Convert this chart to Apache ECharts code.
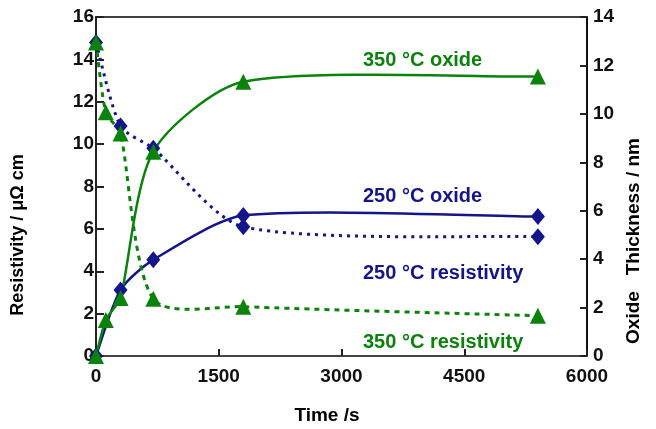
<!DOCTYPE html>
<html><head><meta charset="utf-8">
<script src="https://cdn.jsdelivr.net/npm/echarts@6/dist/echarts.min.js"></script>
<style>html,body{margin:0;padding:0;background:#fff}#c{width:656px;height:429px}</style>
</head><body><div id="c"></div>
<script>
const times350 = [0, 120, 300, 700, 1800, 5400];
const times250 = [0, 300, 700, 1800, 5400];
const oxide350 = [0, 1.49, 2.4, 8.44, 11.33, 11.54];
const oxide250 = [0, 2.73, 3.97, 5.8, 5.76];
const resist350 = [14.8, 11.5, 10.5, 2.7, 2.33, 1.9];
const resist250 = [14.8, 10.85, 9.8, 6.1, 5.63];
const xTicks = [0, 1500, 3000, 4500, 6000];
const labels = ['350 °C oxide', '250 °C oxide', '250 °C resistivity', '350 °C resistivity'];

const BLUE = '#15158a', GREEN = '#0b820b';
const pair = (t, v) => t.map((x, i) => [x, v[i]]);
const font = 'Liberation Sans, Arial, sans-serif';

// Smoothed curve (Catmull-Rom legs, capped per side) through the data points, positioned by the chart's axes
function curveSeries(times, vals, yIdx, color, width, dash) {
  const data = pair(times, vals);
  return {
    type: 'custom', yAxisIndex: yIdx, data: data, encode: {x: 0, y: 1}, silent: true,
    renderItem: function (params, api) {
      if (params.dataIndex !== 0) return null;
      const p = data.map(d => api.coord(d));
      const n = p.length;
      const len = (a, b) => Math.hypot(b[0] - a[0], b[1] - a[1]);
      const legIn = [], legOut = [];
      for (let i = 0; i < n; i++) {
        const a = p[Math.max(i - 1, 0)], b = p[Math.min(i + 1, n - 1)];
        const leg = [(b[0] - a[0]) / 6, (b[1] - a[1]) / 6];
        const L = Math.hypot(leg[0], leg[1]) || 1e-6;
        const dIn = i > 0 ? len(p[i - 1], p[i]) : 0, dOut = i < n - 1 ? len(p[i], p[i + 1]) : 0;
        const sIn = Math.min(1, 0.25 * dIn / L), sOut = Math.min(1, 0.25 * dOut / L);
        legIn.push([leg[0] * sIn, leg[1] * sIn]);
        legOut.push([leg[0] * sOut, leg[1] * sOut]);
      }
      let s = 'M' + p[0][0] + ' ' + p[0][1];
      for (let i = 0; i < n - 1; i++) {
        const c1 = [p[i][0] + legOut[i][0], p[i][1] + legOut[i][1]];
        const c2 = [p[i + 1][0] - legIn[i + 1][0], p[i + 1][1] - legIn[i + 1][1]];
        s += ' C' + c1[0] + ' ' + c1[1] + ' ' + c2[0] + ' ' + c2[1] + ' ' + p[i + 1][0] + ' ' + p[i + 1][1];
      }
      return {type: 'path', shape: {pathData: s}, style: {fill: null, stroke: color, lineWidth: width, lineDash: dash || null}};
    }
  };
}
function markerSeries(times, vals, yIdx, color, symbol, size) {
  return {type: 'scatter', yAxisIndex: yIdx, data: pair(times, vals), symbol: symbol, symbolSize: size,
          itemStyle: {color: color, opacity: 1}};
}

const chart = echarts.init(document.getElementById('c'));
const axisFont = {color: '#111', fontFamily: font, fontWeight: 'bold', fontSize: 19};
chart.setOption({
  animation: false,
  grid: {left: 96, right: 69, top: 17, bottom: 73, show: true, borderColor: '#000', borderWidth: 1.5, backgroundColor: 'transparent'},
  xAxis: {
    type: 'value', min: xTicks[0], max: xTicks[xTicks.length - 1], interval: 1500,
    axisLine: {lineStyle: {color: '#444', width: 2}},
    axisTick: {inside: true, length: 7, lineStyle: {color: '#222', width: 2}},
    splitLine: {show: false},
    axisLabel: Object.assign({margin: 11, formatter: v => String(v)}, axisFont)
  },
  yAxis: [{
    type: 'value', min: 0, max: 16, interval: 2,
    axisLine: {show: true, lineStyle: {color: '#222', width: 2}},
    axisTick: {show: true, inside: true, length: 8, lineStyle: {color: '#222', width: 2}},
    splitLine: {show: false},
    axisLabel: Object.assign({margin: 2}, axisFont)
  }, {
    type: 'value', min: 0, max: 14, interval: 2, position: 'right',
    axisLine: {show: true, lineStyle: {color: '#000', width: 1.5}},
    axisTick: {show: true, inside: true, length: 7, lineStyle: {color: '#222', width: 2}},
    splitLine: {show: false},
    axisLabel: Object.assign({margin: 6}, axisFont)
  }],
  series: [
    curveSeries(times250, oxide250, 1, BLUE, 2.5),
    curveSeries(times250, resist250, 0, BLUE, 3, [3, 5]),
    markerSeries(times250, oxide250, 1, BLUE, 'diamond', [14, 17]),
    markerSeries(times250, resist250, 0, BLUE, 'diamond', [14, 17]),
    curveSeries(times350, oxide350, 1, GREEN, 2.5),
    curveSeries(times350, resist350, 0, GREEN, 3, [5, 5]),
    markerSeries(times350, oxide350, 1, GREEN, 'triangle', [16, 16]),
    markerSeries(times350, resist350, 0, GREEN, 'triangle', [16, 16])
  ],
  graphic: [
    {type: 'text', x: 363, y: 60, style: {text: labels[0], fill: GREEN, font: 'bold 20px ' + font, verticalAlign: 'middle'}},
    {type: 'text', x: 363, y: 196, style: {text: labels[1], fill: BLUE, font: 'bold 20px ' + font, verticalAlign: 'middle'}},
    {type: 'text', x: 363, y: 273, style: {text: labels[2], fill: BLUE, font: 'bold 20px ' + font, verticalAlign: 'middle'}},
    {type: 'text', x: 363, y: 342, style: {text: labels[3], fill: GREEN, font: 'bold 20px ' + font, verticalAlign: 'middle'}},
    {type: 'text', x: 327, y: 416, style: {text: 'Time /s', fill: '#000', font: 'bold 19px ' + font, align: 'center', verticalAlign: 'middle'}},
    {type: 'text', x: 18, y: 235, rotation: Math.PI / 2, style: {text: 'Resistivity / μΩ cm', fill: '#000', font: 'bold 18px ' + font, align: 'center', verticalAlign: 'middle'}},
    {type: 'text', x: 634, y: 241, rotation: Math.PI / 2, style: {text: 'Oxide   Thickness / nm', fill: '#000', font: 'bold 19px ' + font, align: 'center', verticalAlign: 'middle'}}
  ]
});
</script></body></html>
